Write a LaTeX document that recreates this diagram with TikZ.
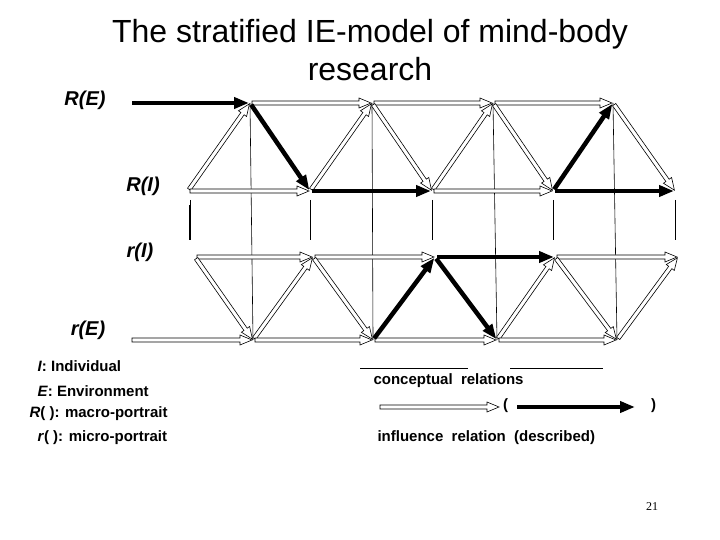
\documentclass[tikz,border=0pt]{standalone}
\usepackage{fontspec}
\setmainfont{Liberation Sans}
\usetikzlibrary{calc,arrows.meta}
\newcommand\harr[2]{%
\filldraw[fill=white,draw=black,line width=0.6pt]
 ($ ($(#1)!2pt!(#2)$)!2pt!90:(#2) $) --
 ($ ($(#2)!13pt!(#1)$)!2pt!-90:(#1) $) --
 ($ ($(#2)!13pt!(#1)$)!5pt!-90:(#1) $) --
 ($(#2)!1pt!(#1)$) --
 ($ ($(#2)!13pt!(#1)$)!5pt!90:(#1) $) --
 ($ ($(#2)!13pt!(#1)$)!2pt!90:(#1) $) --
 ($ ($(#1)!2pt!(#2)$)!2pt!-90:(#2) $) -- cycle;}
\tikzset{thick arr/.style={line width=4.5pt,shorten <=2pt,shorten >=1pt,-{Triangle[length=15pt,width=11pt]}},
 thin/.style={line width=0.6pt},
 lab/.style={font=\fontsize{20}{22}\selectfont\bfseries\itshape},
 leg/.style={font=\fontsize{15}{17}\selectfont\bfseries,anchor=west}}
\begin{document}
\begin{tikzpicture}[x=1pt,y=-1pt]
\useasboundingbox (0,0) rectangle (720,540);
\node[align=center,font=\fontsize{32}{38}\selectfont] (title) at (370,50) {The stratified IE-model of mind-body\\research};
% vertices
\coordinate (RE) at (130,103); \coordinate (rE) at (130,340);
\coordinate (T1) at (250,103); \coordinate (T2) at (372,103); \coordinate (T3) at (493,103); \coordinate (T4) at (613,103);
\coordinate (A0) at (188,191); \coordinate (A1) at (310,191); \coordinate (A2) at (432,191); \coordinate (A3) at (553,191); \coordinate (A4) at (675,191);
\coordinate (B0) at (195,257); \coordinate (B1) at (313,257); \coordinate (B2) at (435,257); \coordinate (B3) at (555,257); \coordinate (B4) at (678,257);
\coordinate (C1) at (253,340); \coordinate (C2) at (373,340); \coordinate (C3) at (497,340); \coordinate (C4) at (617,340);
% thin verticals
\foreach \t/\c in {T1/C1,T2/C2,T3/C3,T4/C4} \draw[thin] (\t) -- (\c);
\foreach \x in {190,310,432,553,675} \draw[thin] (\x,200) -- (\x,240);
\draw[line width=1.2pt] (190,205) -- (190,240);
% labels
\node[lab] (lRE) at (85,100) {R(E)};
\node[lab] (lRI) at (143,186) {R(I)};
\node[lab] (lrI) at (140,252) {r(I)};
\node[lab] (lrE) at (88,330) {r(E)};
% top band
\draw[thick arr] (RE) -- (T1);
\harr{T1}{T2} \harr{T2}{T3} \harr{T3}{T4}
\harr{A0}{T1} \harr{A1}{T2} \harr{T2}{A2} \harr{A2}{T3} \harr{T3}{A3} \harr{T4}{A4}
\harr{A0}{A1} \harr{A2}{A3}
\draw[thick arr] (T1) -- (A1);
\draw[thick arr] (A3) -- (T4);
\draw[thick arr] (A1) -- (A2);
\draw[thick arr] (A3) -- (A4);
% bottom band
\harr{B0}{B1} \harr{B1}{B2} \harr{B3}{B4}
\harr{B0}{C1} \harr{C1}{B1} \harr{B1}{C2} \harr{C3}{B3} \harr{B3}{C4} \harr{C4}{B4}
\harr{rE}{C1} \harr{C1}{C2} \harr{C2}{C3} \harr{C3}{C4}
\draw[thick arr] (B2) -- (B3);
\draw[thick arr] (C2) -- (B2);
\draw[thick arr] (B2) -- (C3);
% legend
\node[leg] (l1) at (34,366) {\textit{I}: Individual};
\node[leg] (l2) at (34,391) {\textit{E}: Environment};
\node[leg] (l3) at (26,414) {\textit{R}( ): macro-portrait};
\node[leg] (l4) at (34,438) {\textit{r}( ): micro-portrait};
\draw[thin] (360,368) -- (468,368);
\draw[thin] (510,368) -- (603,368);
\node[leg] (cr) at (370,381) {conceptual\ \ relations};
\coordinate (h1) at (378,407); \coordinate (h2) at (500,407);
\harr{h1}{h2}
\node[leg,inner sep=0] (po) at (503,406) {(};
\coordinate (k1) at (515,407); \coordinate (k2) at (636,407);
\draw[thick arr] (k1) -- (k2);
\node[leg,inner sep=0] (pc) at (651,406) {)};
\node[leg] (ir) at (374,438) {influence\ \ relation\ \ (described)};
\node[font=\fontsize{12}{14}\selectfont\rmfamily,inner sep=0] (pg) at (652,507) {\setmainfont{Liberation Serif}21};
\end{tikzpicture}
\end{document}
